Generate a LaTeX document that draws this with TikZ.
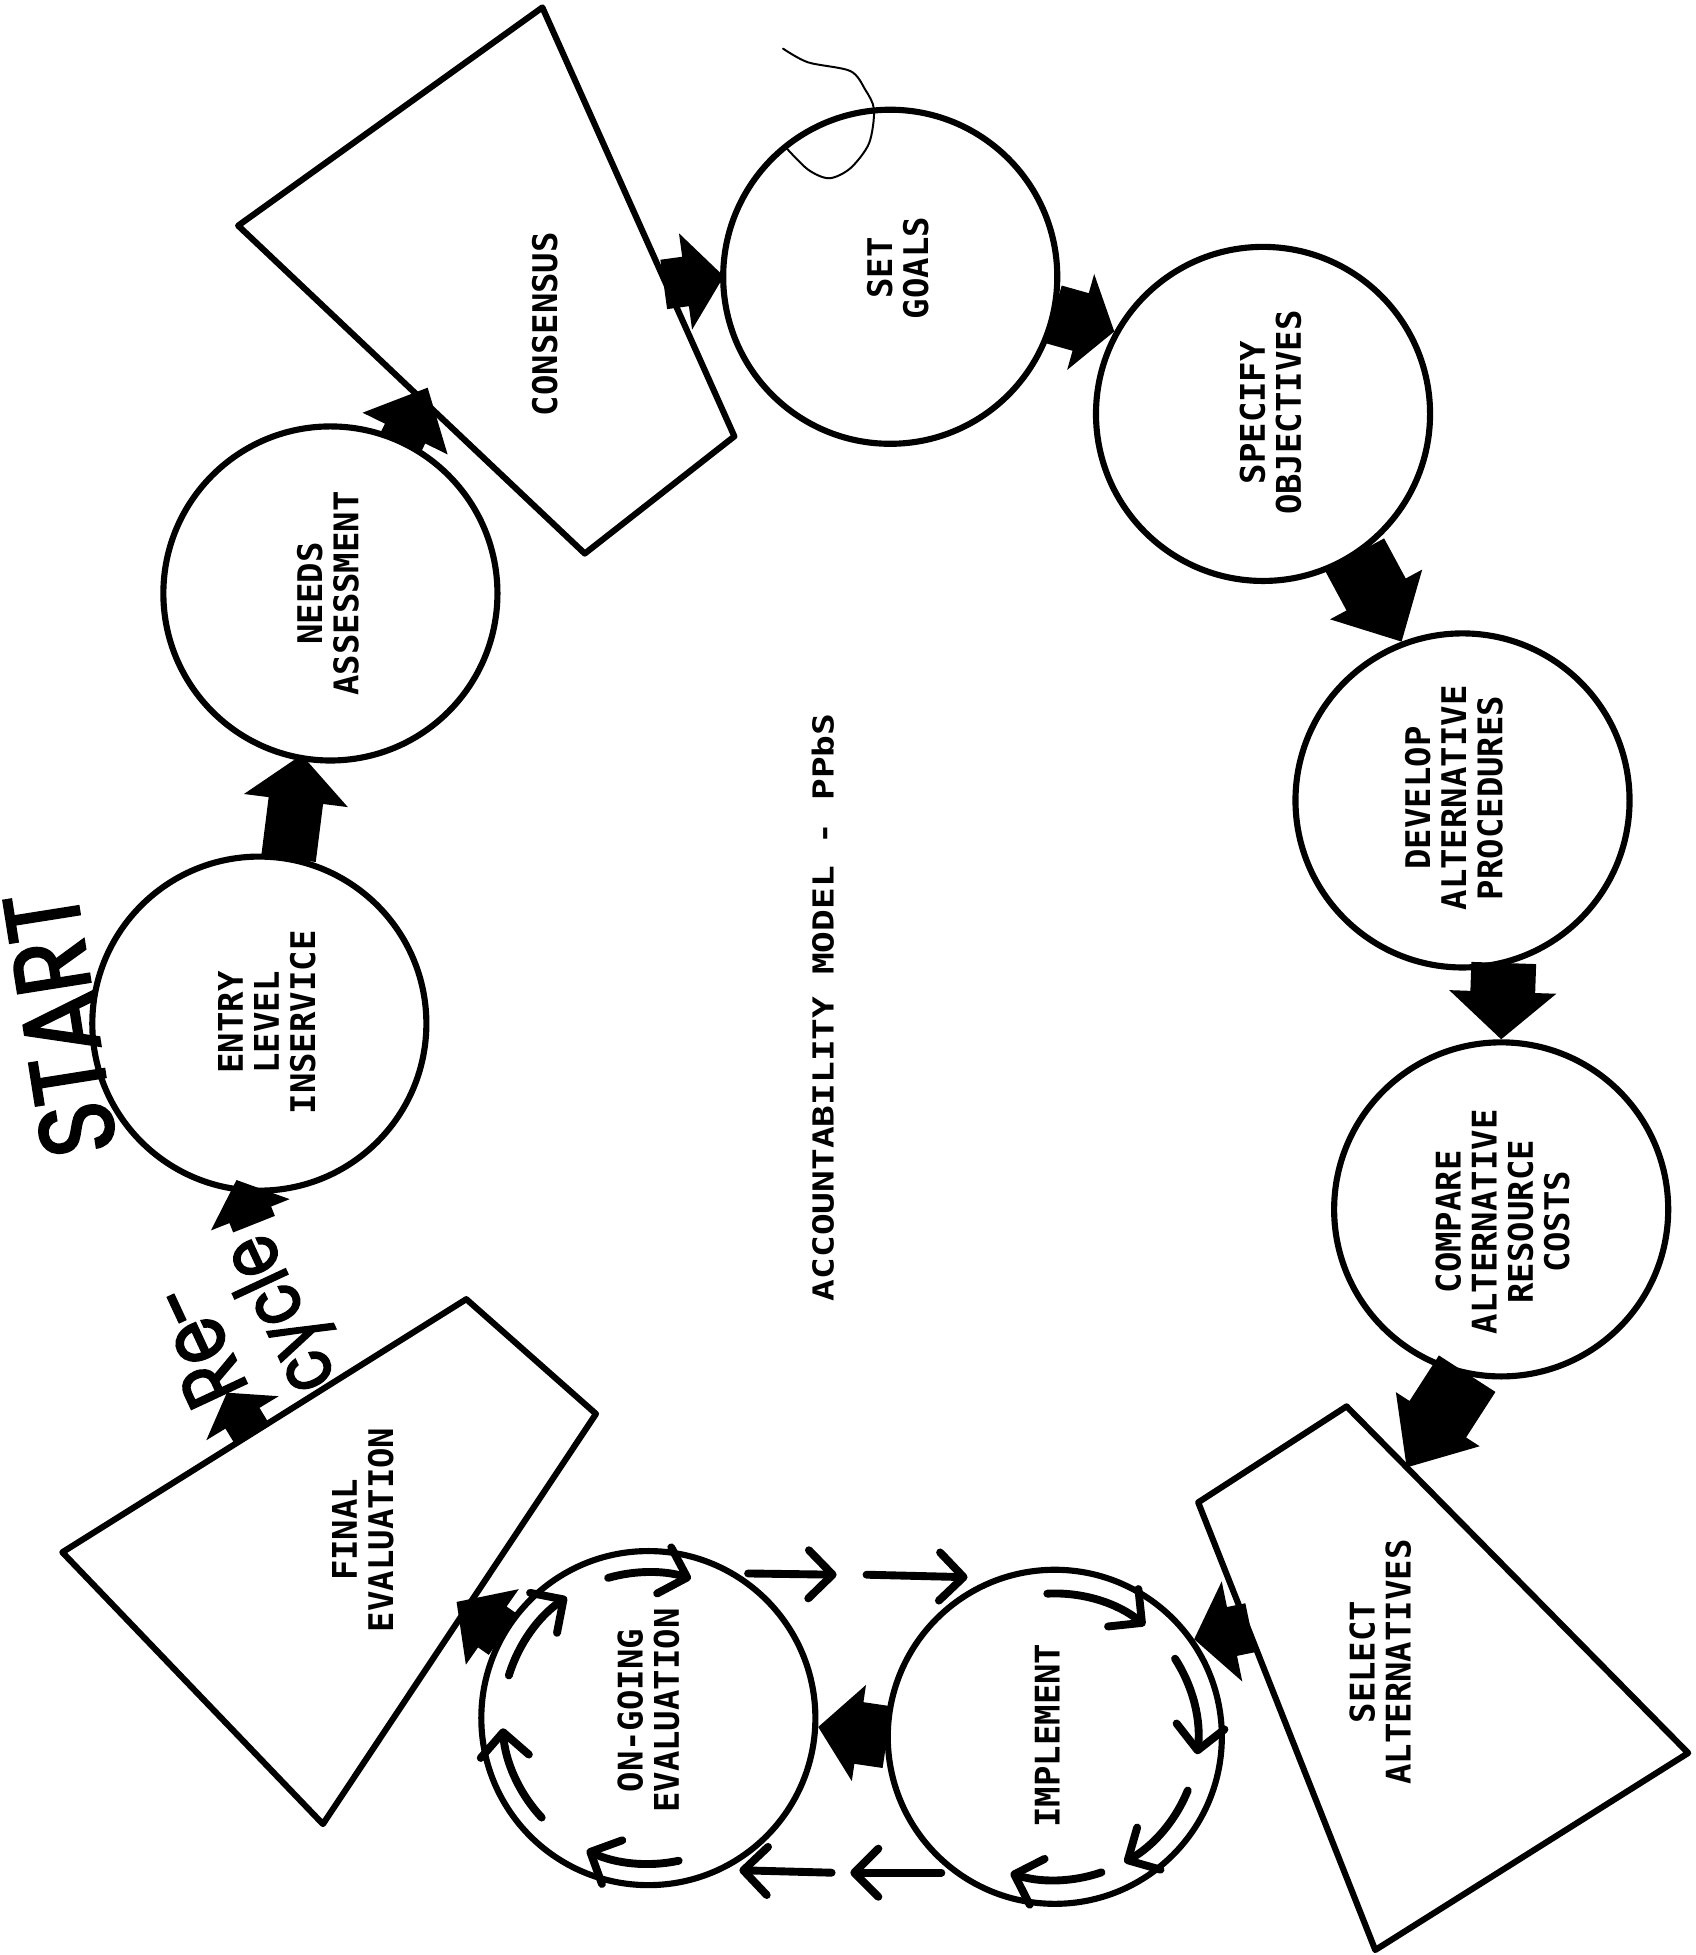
\documentclass[tikz,border=0pt]{standalone}
\usepackage{fontspec}
\usepackage{graphicx}
\usetikzlibrary{calc,arrows.meta}
\newfontfamily\tw{DejaVu Sans Mono}
\newfontfamily\hands{Poppins}[FakeBold=2.2, FakeStretch=0.86]
\newfontfamily\handn{Poppins}[FakeBold=2.2, FakeStretch=0.79]
\tikzset{
  shapeline/.style={draw=black, line width=2.8pt, fill=white, line join=round},
  circ/.style={shapeline, circle, inner sep=0pt, minimum size=5.36cm},
  lbl/.style={rotate=90, align=center, inner sep=0pt, font={\tw\bfseries\fontsize{15.5}{16.5}\selectfont}},
  thinarr/.style={line width=3.6pt, line cap=round, -{Straight Barb[round, length=11pt, width=22pt]}},
  hair/.style={line width=0.9pt, line cap=round},
}
% #1 start, #2 target, #3 stem half width, #4 head half width, #5 head length, #6 overshoot
\newcommand\blkarrow[6]{%
  \path ($(#2)!-#6!(#1)$) coordinate (bkt)
        ($(bkt)!#5!(#1)$) coordinate (bkb)
        ($(#1)!-0.04cm!(#2)$) coordinate (bks);
  \fill[black] ($(bks)!#3!90:(bkt)$) -- ($(bkb)!#3!90:(bkt)$) -- ($(bkb)!#4!90:(bkt)$)
     -- (bkt) -- ($(bkb)!#4!-90:(bkt)$) -- ($(bkb)!#3!-90:(bkt)$) -- ($(bks)!#3!-90:(bkt)$) -- cycle;
}
\begin{document}
\begin{tikzpicture}[x=0.02cm,y=0.02cm]
\useasboundingbox (0,0) rectangle (1360,1568);
\fill[white] (0,0) rectangle (1360,1568);

% circles
\node[circ] (entry) at (208,747) {};
\node[circ] (needs) at (265,1092) {};
\node[circ] (goals) at (714,1346) {};
\node[circ] (spec)  at (1013,1236) {};
\node[circ] (dev)   at (1173,926) {};
\node[circ] (comp)  at (1204,598) {};
\node[circ] (impl)  at (846,175) {};
\node[circ] (ongo)  at (520,190) {};

% stray hair line on SET GOALS
\draw[hair] plot[smooth] coordinates {(628,1529) (648,1518) (682,1511) (694,1496) (701,1480) (697,1453) (682,1433) (665,1425) (648,1432) (630,1450)};

% quadrilaterals
\coordinate (c1) at (435,1562); \coordinate (c2) at (191,1387);
\coordinate (c3) at (469,1124); \coordinate (c4) at (589,1218);
\draw[shapeline] (c1) -- (c2) -- (c3) -- (c4) -- cycle;
\coordinate (s1) at (1080,440); \coordinate (s2) at (961,363);
\coordinate (s3) at (1103,4);   \coordinate (s4) at (1354,162);
\draw[shapeline] (s1) -- (s2) -- (s3) -- (s4) -- cycle;
\coordinate (f1) at (374,526); \coordinate (f2) at (478,434);
\coordinate (f3) at (259,105); \coordinate (f4) at (50,323);
\draw[shapeline] (f1) -- (f2) -- (f3) -- (f4) -- cycle;

% labels
\node[lbl] (cons-t)  at (437,1308) {CONSENSUS};
\node[lbl] (needs-t) at (263,1092) {NEEDS\\ASSESSMENT};
\node[lbl] (goals-t) at (720,1353) {SET\\GOALS};
\node[lbl] (spec-t)  at (1019,1237) {SPECIFY\\OBJECTIVES};
\node[lbl] (dev-t)   at (1166,928) {DEVELOP\\ALTERNATIVE\\PROCEDURES};
\node[lbl] (comp-t)  at (1205,588) {COMPARE\\ALTERNATIVE\\RESOURCE\\COSTS};
\node[lbl] (sel-t)   at (1107,235) {SELECT\\ALTERNATIVES};
\node[lbl] (fin-t)   at (291,341) {FINAL\\EVALUATION};
\node[lbl] (ongo-t)  at (520,196) {ON-GOING\\EVALUATION};
\node[lbl] (impl-t)  at (840,176) {IMPLEMENT};
\node[lbl] (entry-t) at (214,748) {ENTRY\\LEVEL\\INSERVICE};
\node[lbl, font={\tw\bfseries\fontsize{16.5}{18}\selectfont}] (title) at (660,760)
  {\scalebox{1}[0.8]{ACCOUNTABILITY MODEL - PPbS}};

% handwritten words
\node[rotate=99, inner sep=0pt, font={\hands\fontsize{48}{50}\selectfont}] (start) at (48,747) {START};
\node[rotate=115, align=left, inner sep=0pt, font={\handn\fontsize{40}{38}\selectfont}] (recycle) at (197,501)
  {\hspace*{13pt}Re-\\{\fontsize{36}{38}\selectfont cycle}};

% edge points
\coordinate (nc)  at ($(c2)!0.53!(c3)$);
\coordinate (cg)  at ($(c4)!0.355!(c1)$);
\coordinate (cs)  at ($(s1)!0.176!(s4)$);
\coordinate (si)  at ($(s2)!0.281!(s3)$);
\coordinate (of)  at ($(f2)!0.475!(f3)$);
\coordinate (fr)  at ($(f4)!0.469!(f1)$);
\coordinate (rca) at (182,451);
\coordinate (rcb) at (203,588);

% block arrows
\blkarrow{entry.80}{needs.260}{0.44cm}{0.84cm}{0.74cm}{0.1cm}
\blkarrow{needs.65}{nc}{0.36cm}{0.76cm}{0.82cm}{0.21cm}
\blkarrow{cg}{goals.180}{0.40cm}{0.78cm}{0.62cm}{0.06cm}
\blkarrow{goals.347}{spec.151}{0.48cm}{0.80cm}{0.56cm}{0cm}
\blkarrow{spec.303}{dev.111}{0.54cm}{0.84cm}{0.86cm}{0cm}
\blkarrow{dev.284}{comp.90}{0.52cm}{0.86cm}{0.76cm}{0cm}
\blkarrow{comp.258}{cs}{0.54cm}{0.80cm}{0.92cm}{0cm}
\blkarrow{si}{impl.35}{0.40cm}{0.82cm}{0.62cm}{0cm}
\blkarrow{impl.180}{ongo.357}{0.50cm}{0.78cm}{0.66cm}{0cm}
\blkarrow{ongo.150}{of}{0.40cm}{0.74cm}{0.70cm}{0.19cm}
\blkarrow{fr}{rca}{0.32cm}{0.68cm}{0.48cm}{0cm}
\blkarrow{rcb}{entry.264}{0.36cm}{0.68cm}{0.60cm}{0.22cm}

% thin arrows between IMPLEMENT and ON-GOING EVALUATION
\coordinate (ta1) at (600,306); \coordinate (ta2) at (671,305);
\coordinate (ta3) at (695,305); \coordinate (ta4) at (776,303);
\coordinate (tb1) at (667,66);  \coordinate (tb2) at (593,68);
\coordinate (tb3) at (755,66);  \coordinate (tb4) at (682,66);
\draw[thinarr] (ta1) -- (ta2);
\draw[thinarr] (ta3) -- (ta4);
\draw[thinarr] (tb1) -- (tb2);
\draw[thinarr] (tb3) -- (tb4);

% inner cycle arrows
\draw[thinarr] ([shift={(93:2.3cm)}]impl.center) arc[start angle=93, end angle=51, radius=2.3cm];
\draw[thinarr] ([shift={(33:2.3cm)}]impl.center) arc[start angle=33, end angle=-7, radius=2.3cm];
\draw[thinarr] ([shift={(-22:2.3cm)}]impl.center) arc[start angle=-22, end angle=-61, radius=2.3cm];
\draw[thinarr] ([shift={(-71:2.3cm)}]impl.center) arc[start angle=-71, end angle=-108, radius=2.3cm];

\draw[thinarr] ([shift={(-78:2.34cm)}]ongo.center) arc[start angle=-78, end angle=-115, radius=2.34cm];
\draw[thinarr] ([shift={(-137:2.34cm)}]ongo.center) arc[start angle=-137, end angle=-176, radius=2.34cm];
\draw[thinarr] ([shift={(163:2.34cm)}]ongo.center) arc[start angle=163, end angle=124, radius=2.34cm];
\draw[thinarr] ([shift={(106:2.34cm)}]ongo.center) arc[start angle=106, end angle=73, radius=2.34cm];
\end{tikzpicture}
\end{document}
